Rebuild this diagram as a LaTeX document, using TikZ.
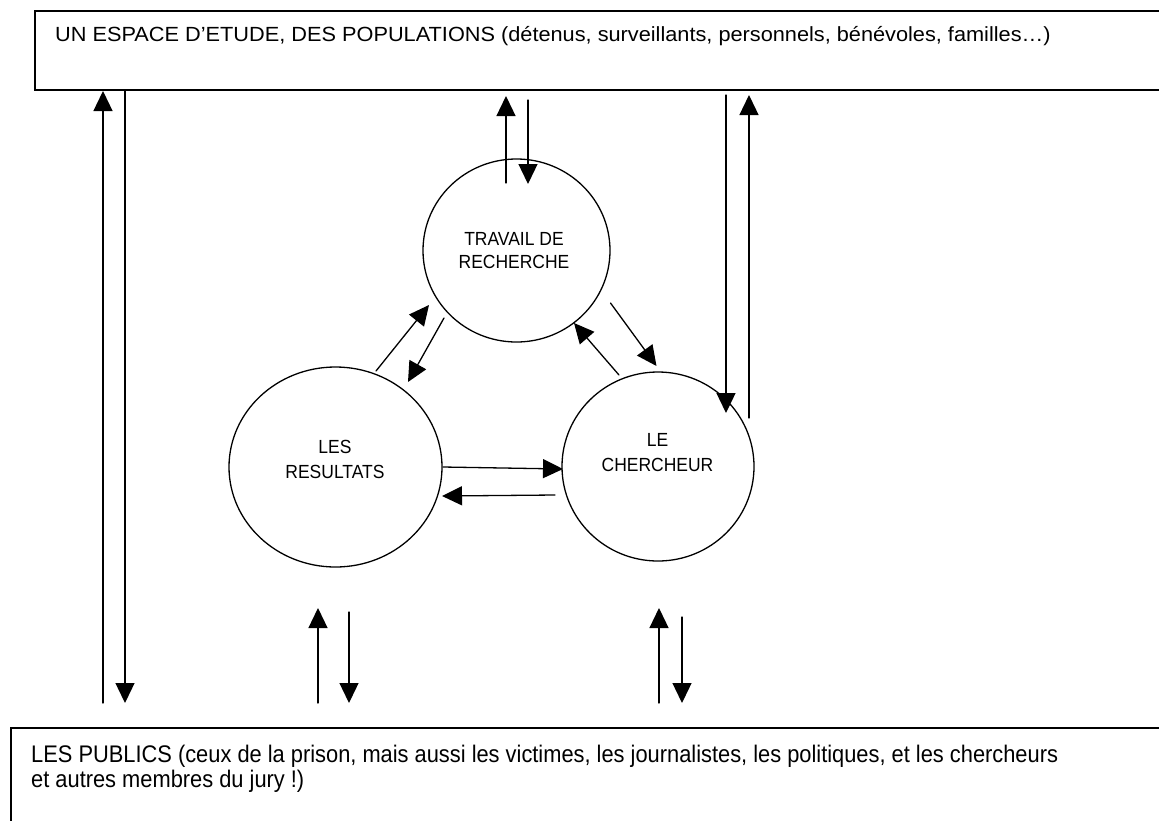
\documentclass[tikz,border=0pt]{standalone}
\usepackage{fontspec}
\usepackage{tkz-euclide}
\usetikzlibrary{arrows.meta, shapes.geometric}
\newfontfamily\cadrefont[FakeStretch=1.06]{Liberation Sans}
\newfontfamily\publicfont[FakeStretch=0.91]{Liberation Sans}
\newfontfamily\bullefont[FakeStretch=0.92]{Liberation Sans}

\begin{document}
\begin{tikzpicture}[x=1pt, y=-1pt,
    cadre/.style={draw, line width=1.6pt, rectangle, anchor=north west, inner sep=0pt},
    bulle/.style={draw, line width=1.3pt, ellipse, inner sep=0pt},
    texte/.style={inner sep=0pt},
    fleche/.style={line width=1.3pt, -{Triangle[length=20pt, width=19pt]}}]
    \useasboundingbox (0,0) rectangle (1159,820);
    % les deux cadres
    \node[cadre, minimum width=1140pt, minimum height=79pt] (espace) at (34,10) {};
    \node[cadre, minimum width=1200pt, minimum height=150pt] (publics) at (10,727) {};
    \node[texte, anchor=base west, font=\cadrefont\fontsize{20.5}{24}\selectfont] (espace-txt) at (55,41)
        {UN ESPACE D’ETUDE, DES POPULATIONS (détenus, surveillants, personnels, bénévoles, familles…)};
    \node[texte, anchor=base west, align=left, font=\publicfont\fontsize{24}{25}\selectfont] (publics-txt) at (31,787)
        {LES PUBLICS (ceux de la prison, mais aussi les victimes, les journalistes, les politiques, et les chercheurs\\
         et autres membres du jury !)};
    % les trois bulles
    \node[bulle, minimum width=187pt, minimum height=183pt] (trav) at (516.5,250.5) {};
    \node[bulle, minimum width=213pt, minimum height=200pt] (res) at (335.5,467) {};
    \node[bulle, minimum width=192pt, minimum height=189pt] (cher) at (658,466.5) {};
    \node[texte, anchor=base, align=center, font=\bullefont\fontsize{19}{23}\selectfont] (trav-txt) at (514,268)
        {TRAVAIL DE\\RECHERCHE};
    \node[texte, anchor=base, align=center, font=\bullefont\fontsize{19}{25}\selectfont] (res-txt) at (335,478)
        {LES\\RESULTATS};
    \node[texte, anchor=base, align=center, font=\bullefont\fontsize{19}{25}\selectfont] (cher-txt) at (657.5,471)
        {LE\\CHERCHEUR};
    % points
    \tkzDefPoint(103,91){E_1}
    \tkzDefPoint(125,90){E_2}
    \tkzDefPoint(506,96){E_3}
    \tkzDefPoint(528,100){E_4}
    \tkzDefPoint(726,95){E_5}
    \tkzDefPoint(749,95){E_6}
    \tkzDefPoint(103,703){P_1}
    \tkzDefPoint(125,703){P_2}
    \tkzDefPoint(318,703){P_3}
    \tkzDefPoint(349,703){P_4}
    \tkzDefPoint(659,703){P_5}
    \tkzDefPoint(682,703){P_6}
    \tkzDefPoint(506,183){T_1}
    \tkzDefPoint(528,184){T_2}
    \tkzDefPoint(429,305){T_3}
    \tkzDefPoint(444,318){T_4}
    \tkzDefPoint(610.5,303){T_5}
    \tkzDefPoint(574,323){T_6}
    \tkzDefPoint(318,608){R_1}
    \tkzDefPoint(349,612){R_2}
    \tkzDefPoint(376,371){R_3}
    \tkzDefPoint(408,382){R_4}
    \tkzDefPoint(443,467){R_5}
    \tkzDefPoint(442,496){R_6}
    \tkzDefPoint(726,413){C_1}
    \tkzDefPoint(749,418){C_2}
    \tkzDefPoint(659,608){C_3}
    \tkzDefPoint(682,617){C_4}
    \tkzDefPoint(656.5,366){C_5}
    \tkzDefPoint(619,375){C_6}
    \tkzDefPoint(563,469){C_7}
    \tkzDefPoint(555,495){C_8}
    % fleches
    \tkzDrawSegments[fleche](P_1,E_1 E_2,P_2 T_1,E_3 E_4,T_2 E_5,C_1 C_2,E_6)
    \tkzDrawSegments[fleche](P_3,R_1 R_2,P_4 P_5,C_3 C_4,P_6)
    \tkzDrawSegments[fleche](R_3,T_3 T_4,R_4 T_5,C_5 C_6,T_6 R_5,C_7 C_8,R_6)
\end{tikzpicture}
\end{document}
